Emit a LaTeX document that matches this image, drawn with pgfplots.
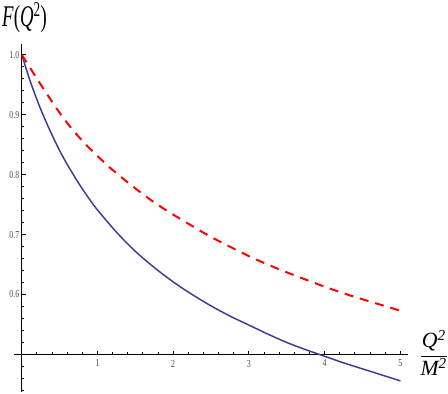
\documentclass[border=0pt]{standalone}
\usepackage{pgfplots}
\pgfplotsset{compat=1.18}
\usepackage{graphicx}
\usepackage{fontspec}
\setmainfont{Liberation Serif}
\definecolor{mblue}{rgb}{0.24,0.24,0.6}
\newcommand\tl[1]{\scalebox{1}[1.35]{#1}}
\begin{document}
\begin{tikzpicture}
\begin{axis}[
  x=76.4bp, y=605bp,
  xmin=-0.1, xmax=5.1, ymin=0.438, ymax=1.018,
  axis lines=middle,
  axis line style={-, line width=1.3bp, black},
  y coord trafo/.code={\pgfmathparse{#1-0.5}},
  y coord inv trafo/.code={\pgfmathparse{#1+0.5}},
  xtick={1,2,3,4,5},
  xticklabels={\tl{1},\tl{2},\tl{3},\tl{4},\tl{5}},
  ytick={0.6,0.7,0.8,0.9,1.0},
  yticklabels={\tl{0.6},\tl{0.7},\tl{0.8},\tl{0.9},\tl{1.0}},
  minor xtick={0.2,0.4,0.6,0.8,1.2,1.4,1.6,1.8,2.2,2.4,2.6,2.8,3.2,3.4,3.6,3.8,4.2,4.4,4.6,4.8},
  minor ytick={0.44,0.46,0.48,0.52,0.54,0.56,0.58,0.62,0.64,0.66,0.68,0.72,0.74,0.76,0.78,0.82,0.84,0.86,0.88,0.92,0.94,0.96,0.98},
  tick align=inside,
  major tick length=4bp,
  minor tick length=2.5bp,
  every tick/.style={black, line width=1bp},
  tick label style={font=\fontsize{8}{8}\selectfont, text=black!70},
  xticklabel style={yshift=-2bp},
  yticklabel style={xshift=1bp},
  clip=false,
]
\addplot[mblue, line width=1.5bp, smooth] coordinates {
(0,1.000) (0.1,0.960) (0.2,0.925) (0.3,0.894) (0.4,0.866) (0.5,0.840)
(0.6,0.817) (0.7,0.796) (0.8,0.776) (0.9,0.758) (1.0,0.741) (1.25,0.704)
(1.5,0.672) (1.75,0.645) (2.0,0.621) (2.25,0.600) (2.5,0.581) (2.75,0.564)
(3.0,0.549) (3.25,0.534) (3.5,0.520) (3.75,0.508) (4.0,0.497) (4.25,0.486)
(4.5,0.476) (4.75,0.466) (5.0,0.456)
};
\addplot[red, line width=2bp, dash pattern=on 9bp off 7bp, smooth] coordinates {
(0,1.000) (0.2,0.960) (0.35,0.931) (0.5,0.903) (0.65,0.878) (0.825,0.853)
(1.0,0.831) (1.16,0.812) (1.35,0.792) (1.52,0.775) (1.7,0.758) (1.9,0.741)
(2.07,0.728) (2.5,0.696) (3.0,0.664) (3.25,0.650) (3.5,0.637) (4.0,0.613)
(4.3,0.600) (4.5,0.592) (5.0,0.573)
};
\path (rel axis cs:-0.0361,-0.0052) rectangle (rel axis cs:1.0915,1.1262);
\node[anchor=base west, inner sep=0pt] at (rel axis cs:-0.0311,1.050)
  {\scalebox{1}[1.6]{\fontsize{19}{19}\selectfont\textit{F}(\textit{Q}\textsuperscript{2})}};
\node[anchor=base west, inner sep=0pt] at (rel axis cs:1.0287,0.0867)
  {\fontsize{22}{22}\selectfont$\displaystyle\frac{\mbox{\itshape Q\textsuperscript{2}}}{\mbox{\itshape M\textsuperscript{2}}}$};
\end{axis}
\end{tikzpicture}
\end{document}
